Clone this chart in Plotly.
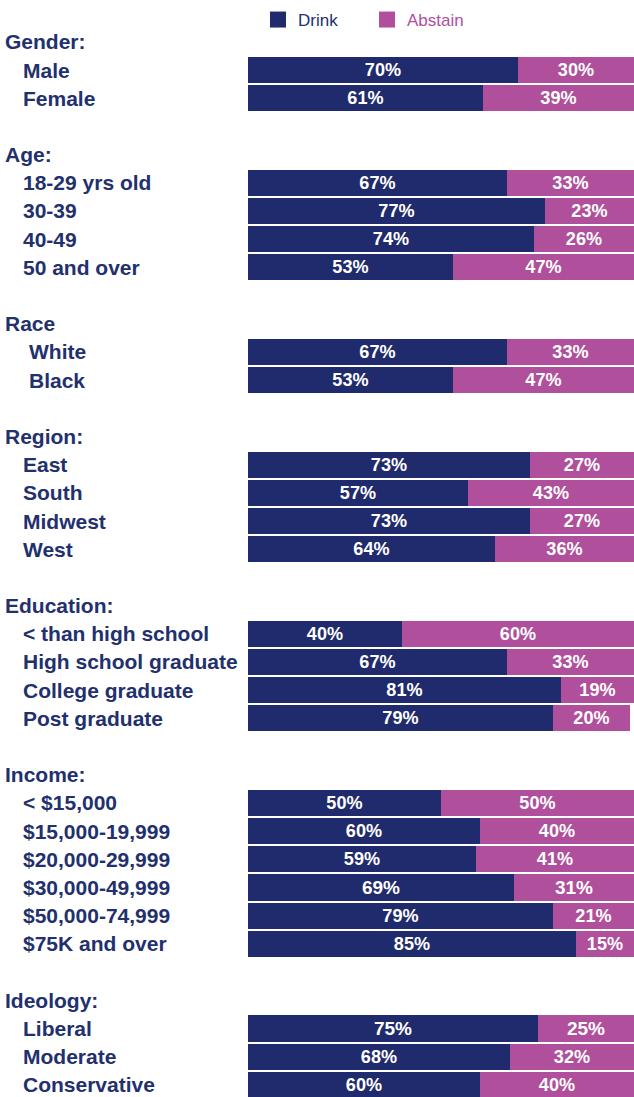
import plotly.graph_objects as go

groups = ["Gender:", "Age:", "Race", "Region:", "Education:", "Income:", "Ideology:"]
categories = [
    ["Male", "Female"],
    ["18-29 yrs old", "30-39", "40-49", "50 and over"],
    ["White", "Black"],
    ["East", "South", "Midwest", "West"],
    ["< than high school", "High school graduate", "College graduate", "Post graduate"],
    ["< $15,000", "$15,000-19,999", "$20,000-29,999", "$30,000-49,999", "$50,000-74,999", "$75K and over"],
    ["Liberal", "Moderate", "Conservative"],
]
drink = [[70, 61], [67, 77, 74, 53], [67, 53], [73, 57, 73, 64],
         [40, 67, 81, 79], [50, 60, 59, 69, 79, 85], [75, 68, 60]]
abstain = [[30, 39], [33, 23, 26, 47], [33, 47], [27, 43, 27, 36],
           [60, 33, 19, 20], [50, 40, 41, 31, 21, 15], [25, 32, 40]]

NAVY = "#1f2b6c"
PINK = "#b04f9b"
LABEL = "#22306e"

W, H = 634, 1097
ML = 248
PW = W - ML

# build row positions (header row, item rows, blank row)
ys, drink_v, abst_v, names = [], [], [], []
header_pos = []
idx = 0
for g, cats, d, a in zip(groups, categories, drink, abstain):
    header_pos.append(idx)
    for i, c in enumerate(cats):
        ys.append(idx + 1 + i)
        names.append(c)
        drink_v.append(d[i])
        abst_v.append(a[i])
    idx += len(cats) + 2

bar_font = dict(color="white", size=19, family="Liberation Sans")

fig = go.Figure()
fig.add_trace(go.Bar(
    y=ys, x=drink_v, orientation="h", marker=dict(color=NAVY, line=dict(width=0)),
    width=0.93, text=[f"<b>{v}%</b>" for v in drink_v], textposition="inside",
    insidetextanchor="middle", textfont=bar_font,
    showlegend=False, hoverinfo="skip"))
fig.add_trace(go.Bar(
    y=ys, x=abst_v, orientation="h", marker=dict(color=PINK, line=dict(width=0)),
    width=0.93, text=[f"<b>{v}%</b>" for v in abst_v], textposition="inside",
    insidetextanchor="middle", textfont=bar_font,
    showlegend=False, hoverinfo="skip"))

# legend entries
fig.add_trace(go.Scatter(x=[None], y=[None], mode="markers", name="Drink",
                         marker=dict(symbol="square", size=16, color=NAVY)))
fig.add_trace(go.Scatter(x=[None], y=[None], mode="markers",
                         name=f"<span style='color:{PINK}'>Abstain</span>",
                         marker=dict(symbol="square", size=16, color=PINK)))

annotations = []
def px2paper(px):
    return (px - ML) / PW

lab_font = dict(size=21, color=LABEL, family="Liberation Sans")
for gi, (g, hp) in enumerate(zip(groups, header_pos)):
    annotations.append(dict(x=px2paper(3), y=hp, xref="paper", yref="y", text=f"<b>{g}</b>",
                            showarrow=False, xanchor="left", yanchor="middle", font=lab_font))
    indent = 27 if g == "Race" else 21
    for i, c in enumerate(categories[gi]):
        annotations.append(dict(x=px2paper(indent), y=hp + 1 + i, xref="paper", yref="y",
                                text="<b>" + c.replace("<", "&lt;") + "</b>",
                                showarrow=False, xanchor="left", yanchor="middle", font=lab_font))

pitch = 28.19
first_center = 70
y_top = 1 - first_center / pitch
y_bot = 1 + (H - first_center) / pitch

fig.update_layout(
    width=W, height=H,
    margin=dict(l=ML, r=0, t=0, b=0),
    barmode="stack", bargap=0,
    plot_bgcolor="white", paper_bgcolor="white",
    xaxis=dict(range=[0, 100], visible=False, fixedrange=True),
    yaxis=dict(range=[y_bot, y_top], visible=False, fixedrange=True),
    showlegend=True,
    legend=dict(orientation="h", x=px2paper(258), xanchor="left", y=1 - 20 / H, yanchor="middle",
                font=dict(size=17, color=LABEL, family="Liberation Sans"),
                traceorder="normal",
                bgcolor="rgba(0,0,0,0)", entrywidth=64, entrywidthmode="pixels"),
    annotations=annotations,
    font=dict(family="Liberation Sans"),
)

fig.write_html("out.html", config={"displayModeBar": False},
               post_script="document.body.style.margin='0';document.body.style.overflow='hidden';")
